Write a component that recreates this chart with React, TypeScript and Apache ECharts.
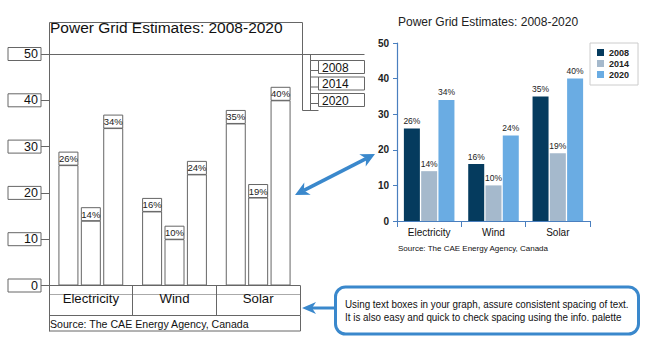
import React, { useEffect, useRef } from "react";
import * as echarts from "echarts";

const categories = ["Electricity", "Wind", "Solar"];
const years = ["2008", "2014", "2020"];
const v2008 = [26, 16, 35];
const v2014 = [14, 10, 19];
const v2020 = [34, 24, 40];
const yTicks = [0, 10, 20, 30, 40, 50];
const colors = ["#053b5e", "#a5b9cc", "#6aace3"];
const title = "Power Grid Estimates: 2008-2020";
const source = "Source: The CAE Energy Agency, Canada";
const note1 = "Using text boxes in your graph, assure consistent spacing of text.";
const note2 = "It is also easy and quick to check spacing using the info. palette";

const SANS = '"Liberation Sans", Arial, sans-serif';
const LINE = "#666";
const BLUE = "#3a88cc";

function measure(text: string, font: string): number {
  const c = document.createElement("canvas").getContext("2d");
  if (!c) return text.length * 6;
  c.font = font;
  return c.measureText(text).width;
}

export default function App() {
  const ref = useRef<HTMLDivElement>(null);
  useEffect(() => {
    if (!ref.current) return;
    const chart = echarts.init(ref.current, null, { renderer: "svg" });
    const series2 = [v2008, v2014, v2020];

    const noteW = measure(note1, '11.5px "Liberation Sans"');
    const noteScale = noteW > 0 ? 284 / noteW : 0.85;

    const leftSeries = series2.map((d, i) => ({
      name: "L" + years[i],
      type: "bar",
      xAxisIndex: 0,
      yAxisIndex: 0,
      data: d,
      barWidth: 20,
      barGap: "12%",
      itemStyle: { color: "#fff", borderColor: LINE, borderWidth: 1 },
      label: {
        show: true,
        position: "top",
        distance: 0,
        formatter: "{c}%",
        fontFamily: SANS,
        fontSize: 9.5,
        color: "#222",
        borderColor: LINE,
        borderWidth: 1,
        width: 19,
        height: 13,
        lineHeight: 13,
        align: "center",
      },
    }));
    const rightSeries = series2.map((d, i) => ({
      name: years[i],
      type: "bar",
      xAxisIndex: 1,
      yAxisIndex: 1,
      data: d,
      barWidth: 16,
      barGap: "8%",
      itemStyle: { color: colors[i] },
      label: {
        show: true,
        position: "top",
        distance: 3,
        formatter: "{c}%",
        fontFamily: SANS,
        fontSize: 8.5,
        color: "#222",
      },
    }));

    const legendItems: any[] = [];
    years.forEach((y, i) => {
      const top = 60.5 + 16.5 * i;
      legendItems.push(
        { type: "rect", shape: { x: 310.5, y: top, width: 8, height: 10 }, style: { fill: "#fff", stroke: LINE, lineWidth: 1 } },
        { type: "rect", shape: { x: 318.5, y: top, width: 46, height: 13 }, style: { fill: "#fff", stroke: LINE, lineWidth: 1 } },
        { type: "text", x: 322, y: top + 7, style: { text: y, fontSize: 12, fontFamily: SANS, fill: "#111", verticalAlign: "middle" } }
      );
    });

    chart.setOption({
      animation: false,
      title: [
        { text: title, left: 50, top: 19, padding: 0, textStyle: { fontSize: 15.5, fontWeight: "normal", color: "#111", fontFamily: SANS } },
        { text: title, left: 398, top: 16, padding: 0, textStyle: { fontSize: 12, fontWeight: "normal", color: "#222", fontFamily: SANS } },
      ],
      legend: {
        data: years,
        left: 590,
        top: 43,
        orient: "vertical",
        icon: "rect",
        itemWidth: 7,
        itemHeight: 7,
        itemGap: 2,
        padding: [5, 9, 6, 7],
        borderColor: "#ccc",
        borderWidth: 1,
        textStyle: { fontSize: 9, fontWeight: "bold", color: "#222", fontFamily: SANS },
      },
      grid: [
        { left: 49, top: 54, width: 251, height: 231.5 },
        { left: 397, top: 43, width: 193, height: 178 },
      ],
      xAxis: [
        {
          gridIndex: 0,
          type: "category",
          data: categories,
          axisLine: { lineStyle: { color: LINE } },
          axisTick: { show: true, length: 30, interval: 0, lineStyle: { color: LINE } },
          axisLabel: { fontSize: 13.2, color: "#111", margin: 6, fontFamily: SANS },
        },
        {
          gridIndex: 1,
          type: "category",
          data: categories,
          axisLine: { lineStyle: { color: "#4a7fbf", width: 1.2 } },
          axisTick: { show: true, length: 6, interval: 0, lineStyle: { color: "#4a7fbf" } },
          axisLabel: { fontSize: 10, color: "#111", margin: 6, fontFamily: SANS },
        },
      ],
      yAxis: [
        {
          gridIndex: 0,
          type: "value",
          min: yTicks[0],
          max: yTicks[yTicks.length - 1],
          interval: 10,
          axisLine: { show: false },
          axisTick: { show: true, length: 8, lineStyle: { color: LINE } },
          splitLine: { show: false },
          axisLabel: {
            margin: 8,
            fontSize: 12.5,
            color: "#111",
            fontFamily: SANS,
            borderColor: LINE,
            borderWidth: 1,
            width: 30,
            height: 13,
            lineHeight: 13,
            padding: [0, 3, 0, 0],
            align: "right",
          },
        },
        {
          gridIndex: 1,
          type: "value",
          min: yTicks[0],
          max: yTicks[yTicks.length - 1],
          interval: 10,
          axisLine: { show: true, lineStyle: { color: "#4a7fbf", width: 1.2 } },
          axisTick: { show: true, length: 4, lineStyle: { color: "#4a7fbf" } },
          splitLine: { show: false },
          axisLabel: { margin: 8, fontSize: 10, fontWeight: "bold", color: "#222", fontFamily: SANS },
        },
      ],
      graphic: [
        { type: "polyline", shape: { points: [[49.5, 331.5], [49.5, 22.5], [302.5, 22.5], [302.5, 110.5]] }, style: { stroke: LINE, lineWidth: 1, fill: null } },
        { type: "line", shape: { x1: 49.5, y1: 54.5, x2: 364.5, y2: 54.5 }, style: { stroke: LINE, lineWidth: 1 } },
        { type: "line", shape: { x1: 310.5, y1: 54.5, x2: 310.5, y2: 110.5 }, style: { stroke: LINE, lineWidth: 1 } },
        { type: "line", shape: { x1: 302.5, y1: 110.5, x2: 318.5, y2: 110.5 }, style: { stroke: LINE, lineWidth: 1 } },
        ...legendItems,
        { type: "line", shape: { x1: 49.5, y1: 294.5, x2: 300.5, y2: 294.5 }, style: { stroke: "#aaa", lineWidth: 1 } },
        { type: "rect", shape: { x: 49.5, y: 315.5, width: 251, height: 15.5 }, style: { fill: null, stroke: LINE, lineWidth: 1 } },
        { type: "text", x: 50, y: 323.5, style: { text: source, fontSize: 10.6, fontFamily: SANS, fill: "#111", verticalAlign: "middle" } },
        { type: "text", x: 398, y: 248, style: { text: source, fontSize: 8, fontFamily: SANS, fill: "#111", verticalAlign: "middle" } },
        // double arrow
        { type: "line", shape: { x1: 303.9, y1: 190.4, x2: 366.1, y2: 158.6 }, style: { stroke: BLUE, lineWidth: 3.5 } },
        { type: "polygon", shape: { points: [[295, 195], [310.7, 194.8], [303.9, 190.4], [304.3, 182.4]] }, style: { fill: BLUE } },
        { type: "polygon", shape: { points: [[375, 154], [359.3, 154.2], [366.1, 158.6], [365.7, 166.6]] }, style: { fill: BLUE } },
        // callout
        { type: "rect", shape: { x: 335.5, y: 287, width: 303, height: 47, r: 10 }, style: { fill: "#fff", stroke: BLUE, lineWidth: 3 } },
        { type: "line", shape: { x1: 312, y1: 308, x2: 334, y2: 308 }, style: { stroke: BLUE, lineWidth: 3 } },
        { type: "polygon", shape: { points: [[302, 308], [316, 302], [312, 308], [316, 314]] }, style: { fill: BLUE } },
        { type: "text", x: 345, y: 304, scaleX: noteScale, style: { text: note1, fontSize: 11.5, fontFamily: SANS, fill: "#111", verticalAlign: "middle" } },
        { type: "text", x: 345, y: 317, scaleX: noteScale, style: { text: note2, fontSize: 11.5, fontFamily: SANS, fill: "#111", verticalAlign: "middle" } },
      ],
      series: [...rightSeries, ...leftSeries],
    });
    return () => chart.dispose();
  }, []);
  return <div ref={ref} style={{ position: "fixed", left: 0, top: 0, width: 649, height: 350, background: "#fff" }} />;
}
